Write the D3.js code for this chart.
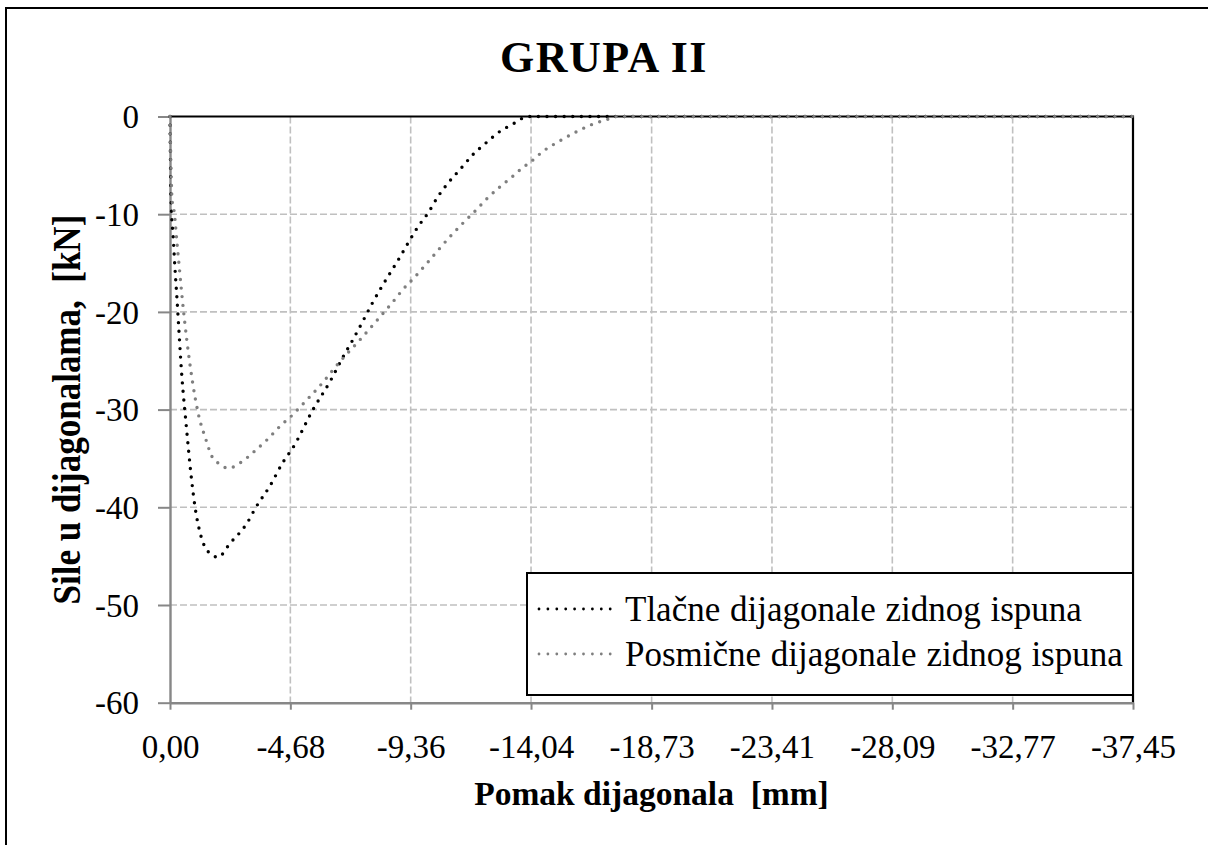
<!DOCTYPE html>
<html>
<head>
<meta charset="utf-8">
<script src="https://cdn.jsdelivr.net/npm/d3@7/dist/d3.min.js"></script>
<style>
  html, body { margin: 0; padding: 0; background: #fff; overflow: hidden; }
  svg { display: block; }
  text { font-family: "Liberation Serif", "Times New Roman", serif; fill: #000; }
</style>
</head>
<body>
<svg id="chart" width="1208" height="845"></svg>
<script>
// Displacement [mm] and force [kN] along the compression diagonals
const tlacneX = [0, -0.04, -0.13, -0.19, -0.26, -0.47, -0.62, -0.84, -0.97, -1.21, -1.47, -1.87, -2.33, -3.0, -3.34, -3.89, -4.39, -4.78, -5.56, -6.25, -6.73, -7.08, -7.43, -7.89, -8.24, -8.59, -8.94, -9.29, -9.64, -10.03, -10.42, -10.85, -11.32, -11.78, -12.29, -12.79, -13.38, -13.73, -14.04, -18.73, -23.41, -28.09, -32.77, -37.45];
const tlacneY = [0, -8.5, -12.6, -15.4, -18.2, -26.9, -31.3, -37.2, -39.9, -43.0, -44.5, -45.1, -43.7, -41.6, -40.0, -37.8, -35.4, -33.9, -30.0, -27.0, -24.6, -23.0, -21.3, -19.0, -17.4, -15.9, -14.4, -12.8, -11.3, -9.9, -8.2, -6.7, -5.3, -3.9, -2.7, -1.6, -0.7, -0.15, 0, 0, 0, 0, 0, 0];

// Displacement [mm] and force [kN] along the shear diagonals
const posmicneX = [0, -0.08, -0.17, -0.26, -0.36, -0.46, -0.86, -1.09, -1.40, -1.63, -1.95, -2.26, -2.76, -3.27, -3.77, -4.28, -4.78, -5.25, -5.95, -6.38, -6.81, -7.27, -7.74, -8.17, -8.63, -9.06, -9.53, -10.0, -10.42, -10.89, -11.36, -11.82, -12.33, -12.83, -13.34, -13.73, -14.0, -14.54, -15.09, -15.71, -16.33, -17.0, -17.4, -18.73, -23.41, -28.09, -32.77, -37.45];
const posmicneY = [0, -8.5, -9.9, -12.6, -15.4, -18.2, -26.9, -30.3, -33.1, -34.8, -35.6, -36.0, -35.4, -34.3, -33.1, -31.7, -30.5, -29.2, -27.2, -25.8, -24.5, -23.2, -21.8, -20.5, -19.1, -17.7, -16.4, -15.0, -13.7, -12.3, -11.0, -9.8, -8.4, -7.2, -6.1, -5.2, -4.7, -3.5, -2.6, -1.7, -0.9, -0.3, 0, 0, 0, 0, 0, 0];

const xTicks = [0, -4.68, -9.36, -14.04, -18.73, -23.41, -28.09, -32.77, -37.45];
const xTickLabels = ["0,00", "-4,68", "-9,36", "-14,04", "-18,73", "-23,41", "-28,09", "-32,77", "-37,45"];
const yTicks = [0, -10, -20, -30, -40, -50, -60];

const seriesNames = ["Tlačne dijagonale zidnog ispuna", "Posmične dijagonale zidnog ispuna"];
const seriesColors = ["#000000", "#7f7f7f"];

const svg = d3.select("#chart");

// outer chart frame
svg.append("rect")
  .attr("x", 6).attr("y", 8).attr("width", 1240).attr("height", 880)
  .attr("fill", "#fff").attr("stroke", "#000").attr("stroke-width", 2);

const plot = { left: 170, right: 1133, top: 116.5, bottom: 702.7 };

const x = d3.scaleLinear().domain([0, -37.45]).range([plot.left, plot.right]);
const y = d3.scaleLinear().domain([0, -60]).range([plot.top, plot.bottom]);

// grid
const grid = svg.append("g");
grid.selectAll("line.h").data(yTicks.slice(1, -1)).join("line")
  .attr("x1", plot.left).attr("x2", plot.right)
  .attr("y1", d => y(d)).attr("y2", d => y(d))
  .attr("stroke", "#c0c0c0").attr("stroke-width", 1.6).attr("stroke-dasharray", "7 3");
grid.selectAll("line.v").data(xTicks.slice(1, -1)).join("line")
  .attr("y1", plot.top).attr("y2", plot.bottom)
  .attr("x1", d => x(d)).attr("x2", d => x(d))
  .attr("stroke", "#c0c0c0").attr("stroke-width", 1.6).attr("stroke-dasharray", "7 3");

// plot frame (top and right)
svg.append("path")
  .attr("d", `M${plot.left},${plot.top}H${plot.right}V${plot.bottom}`)
  .attr("fill", "none").attr("stroke", "#000").attr("stroke-width", 2.2);

// axes
const xAxis = d3.axisBottom(x).tickValues(xTicks).tickFormat((d, i) => xTickLabels[i]).tickSize(7).tickSizeOuter(0);
const yAxis = d3.axisLeft(y).tickValues(yTicks).tickFormat(d => String(d)).tickSize(12).tickSizeOuter(0);

const gx = svg.append("g").attr("transform", `translate(0,${plot.bottom})`).call(xAxis);
gx.select(".domain").attr("stroke", "#878787").attr("stroke-width", 2.4);
gx.selectAll(".tick line").attr("stroke", "#878787").attr("stroke-width", 2);
gx.selectAll(".tick text").attr("font-size", 33)
  .attr("y", 0).attr("dy", 0).attr("transform", "translate(0,55)");

const gy = svg.append("g").attr("transform", `translate(${plot.left},0)`).call(yAxis);
gy.select(".domain").attr("stroke", "#878787").attr("stroke-width", 2.4);
gy.selectAll(".tick line").attr("stroke", "#878787").attr("stroke-width", 2);
gy.selectAll(".tick text").attr("font-size", 33)
  .attr("x", -31).attr("dy", "0.34em");

// series
const line = d3.line().x(d => x(d[0])).y(d => y(d[1])).curve(d3.curveMonotoneX);
const series = [
  d3.zip(tlacneX, tlacneY),
  d3.zip(posmicneX, posmicneY)
];
svg.append("g").selectAll("path").data(series).join("path")
  .attr("d", line)
  .attr("fill", "none")
  .attr("stroke", (d, i) => seriesColors[i])
  .attr("stroke-width", 3.4)
  .attr("stroke-linecap", "round")
  .attr("stroke-dasharray", "0 8.6");

// legend
const lg = svg.append("g");
lg.append("rect")
  .attr("x", 527).attr("y", 573).attr("width", 606).attr("height", 122)
  .attr("fill", "#fff").attr("stroke", "#000").attr("stroke-width", 2);
seriesNames.forEach((name, i) => {
  const cy = 609 + i * 45;
  lg.append("line")
    .attr("x1", 539).attr("x2", 614).attr("y1", cy).attr("y2", cy)
    .attr("stroke", seriesColors[i]).attr("stroke-width", 2.8)
    .attr("stroke-linecap", "round").attr("stroke-dasharray", "0 8.9");
  lg.append("text")
    .attr("x", 625).attr("y", cy + 12)
    .attr("font-size", 35)
    .attr("word-spacing", 1)
    .text(name);
});

// titles
svg.append("text")
  .attr("x", 604).attr("y", 72)
  .attr("text-anchor", "middle").attr("font-weight", "bold").attr("font-size", 44)
  .attr("letter-spacing", 1.5)
  .text("GRUPA II");

svg.append("text")
  .attr("x", (plot.left + plot.right) / 2).attr("y", 805)
  .attr("text-anchor", "middle").attr("font-weight", "bold").attr("font-size", 33.5)
  .style("white-space", "pre")
  .text("Pomak dijagonala  [mm]");

svg.append("text")
  .attr("transform", `translate(80,${(plot.top + plot.bottom) / 2}) rotate(-90) scale(1,1.15)`)
  .attr("text-anchor", "middle").attr("font-weight", "bold").attr("font-size", 35)
  .style("white-space", "pre")
  .text("Sile u dijagonalama,  [kN]");
</script>
</body>
</html>
